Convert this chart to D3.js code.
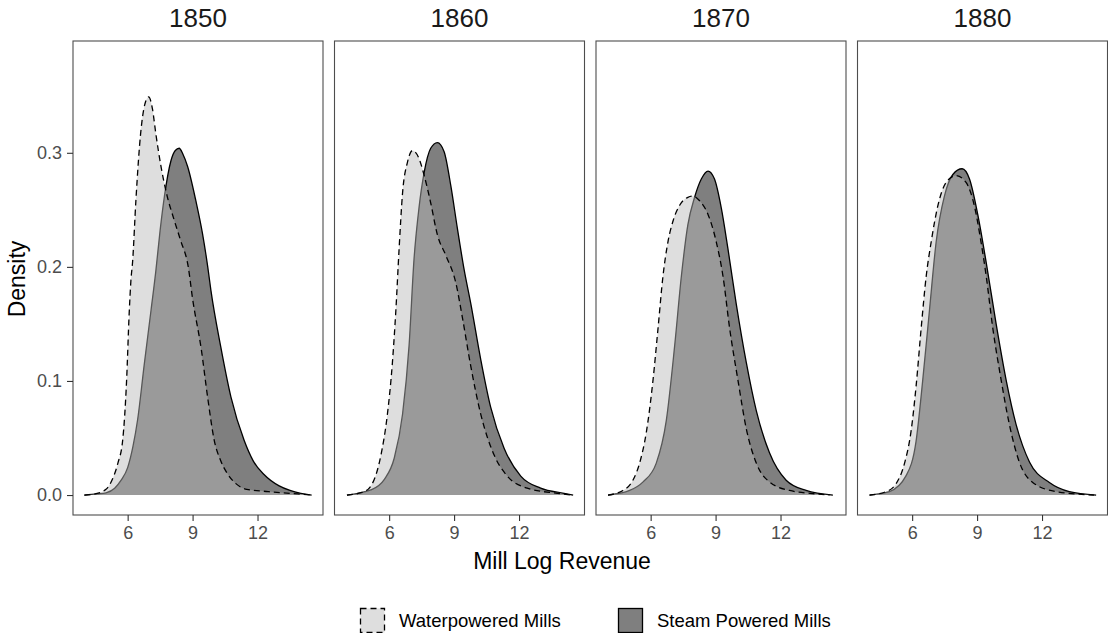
<!DOCTYPE html>
<html>
<head>
<meta charset="utf-8">
<script src="https://cdn.jsdelivr.net/npm/d3@7"></script>
<style>
  body { margin: 0; background: #fff; }
  svg text { font-family: "Liberation Sans", Arial, Helvetica, sans-serif; }
</style>
</head>
<body>
<svg id="chart" width="1108" height="633"></svg>
<script>
// years shown as facets
var years = ["1850", "1860", "1870", "1880"];

// density curves: [log revenue, density]
var water1850 = [[4.0,0],[4.5,0.001],[5.0,0.005],[5.3,0.014],[5.55,0.028],[5.77,0.048],[5.95,0.1],[6.07,0.159],[6.15,0.188],[6.23,0.205],[6.38,0.258],[6.6,0.317],[6.8,0.343],[6.97,0.349],[7.15,0.338],[7.3,0.317],[7.55,0.287],[7.8,0.264],[8.15,0.241],[8.45,0.223],[8.8,0.2],[9.0,0.172],[9.4,0.128],[9.7,0.085],[10.0,0.048],[10.3,0.03],[10.6,0.019],[11.0,0.01],[11.5,0.005],[12.5,0.003],[13.5,0.0015],[14.5,0]];
var steam1850 = [[4.0,0],[4.6,0.001],[5.0,0.002],[5.4,0.006],[5.7,0.013],[6.0,0.024],[6.25,0.043],[6.46,0.066],[6.77,0.115],[7.08,0.162],[7.3,0.196],[7.5,0.232],[7.7,0.262],[8.0,0.293],[8.2,0.302],[8.38,0.304],[8.55,0.299],[8.77,0.288],[9.15,0.258],[9.46,0.229],[9.7,0.2],[9.85,0.179],[10.3,0.13],[10.77,0.086],[11.38,0.048],[11.8,0.03],[12.3,0.018],[13.0,0.008],[13.5,0.004],[14.0,0.0015],[14.5,0]];

var water1860 = [[4.05,0],[4.85,0.003],[5.31,0.0136],[5.62,0.035],[5.92,0.071],[6.15,0.116],[6.31,0.162],[6.46,0.216],[6.62,0.265],[6.85,0.292],[7.08,0.302],[7.38,0.295],[7.62,0.28],[7.92,0.256],[8.23,0.228],[8.62,0.21],[9.08,0.186],[9.38,0.156],[9.77,0.113],[10.23,0.071],[10.85,0.035],[11.46,0.0166],[12.38,0.006],[13.77,0.0015],[14.38,0]];
var steam1860 = [[4.05,0],[5.15,0.0045],[5.77,0.0136],[6.23,0.032],[6.62,0.071],[6.92,0.131],[7.15,0.207],[7.38,0.252],[7.62,0.283],[7.92,0.304],[8.23,0.309],[8.54,0.301],[8.85,0.271],[9.15,0.234],[9.46,0.198],[9.77,0.168],[10.23,0.119],[10.69,0.077],[11.31,0.041],[12.08,0.0166],[13.0,0.006],[14.08,0.0015],[14.5,0]];

var water1870 = [[4.03,0],[4.72,0.004],[5.18,0.013],[5.49,0.028],[5.8,0.055],[6.11,0.101],[6.34,0.146],[6.57,0.192],[6.8,0.222],[7.03,0.24],[7.34,0.254],[7.72,0.261],[7.95,0.262],[8.26,0.258],[8.65,0.246],[9.03,0.222],[9.34,0.192],[9.65,0.146],[10.03,0.101],[10.42,0.058],[10.88,0.028],[11.49,0.0115],[12.42,0.004],[13.65,0.001],[14.26,0]];
var steam1870 = [[4.03,0],[5.03,0.004],[5.65,0.0115],[6.26,0.028],[6.72,0.065],[7.11,0.131],[7.42,0.192],[7.72,0.237],[8.03,0.261],[8.34,0.277],[8.65,0.284],[8.95,0.277],[9.26,0.252],[9.57,0.216],[9.95,0.168],[10.42,0.116],[10.88,0.074],[11.49,0.037],[12.26,0.013],[13.18,0.004],[14.42,0]];

var water1880 = [[4.03,0],[4.8,0.003],[5.26,0.01],[5.65,0.028],[5.95,0.056],[6.18,0.095],[6.42,0.147],[6.65,0.192],[6.88,0.222],[7.18,0.253],[7.57,0.274],[8.03,0.28],[8.49,0.274],[8.88,0.253],[9.18,0.222],[9.42,0.192],[9.72,0.147],[10.11,0.101],[10.49,0.062],[10.95,0.029],[11.57,0.011],[12.65,0.003],[14.4,0]];
var steam1880 = [[4.03,0],[4.95,0.003],[5.72,0.017],[6.18,0.047],[6.49,0.101],[6.8,0.162],[7.11,0.222],[7.49,0.262],[7.88,0.281],[8.31,0.286],[8.65,0.277],[9.03,0.246],[9.42,0.204],[9.88,0.15],[10.34,0.101],[10.8,0.062],[11.42,0.029],[12.34,0.011],[13.26,0.003],[14.5,0]];

var xTicks = [6, 9, 12];
var yTicks = [0, 0.1, 0.2, 0.3];
var seriesNames = ["Waterpowered Mills", "Steam Powered Mills"];

var panels = [
    {year: years[0], water: water1850, steam: steam1850},
    {year: years[1], water: water1860, steam: steam1860},
    {year: years[2], water: water1870, steam: steam1870},
    {year: years[3], water: water1880, steam: steam1880}
];

var svg = d3.select("#chart");
var panelTop = 41, panelH = 474, panelW = 250, panelStep = 261.5, firstLeft = 73;

var xScale = d3.scaleLinear().domain([3.475, 15.025]).range([0, panelW]);
var yScale = d3.scaleLinear().domain([-0.0175, 0.398]).range([panelH, 0]);

var area = d3.area()
    .x(function (d) { return xScale(d[0]); })
    .y0(yScale(0))
    .y1(function (d) { return yScale(d[1]); })
    .curve(d3.curveMonotoneX);
var line = d3.line()
    .x(function (d) { return xScale(d[0]); })
    .y(function (d) { return yScale(d[1]); })
    .curve(d3.curveMonotoneX);

panels.forEach(function (p, i) {
    var g = svg.append("g")
        .attr("transform", "translate(" + (firstLeft + i * panelStep) + "," + panelTop + ")");

    // steam first, water on top with transparency
    g.append("path").attr("d", area(p.steam)).attr("fill", "#7f7f7f");
    g.append("path").attr("d", line(p.steam))
        .attr("fill", "none").attr("stroke", "#000").attr("stroke-width", 1.3);

    g.append("path").attr("d", area(p.water))
        .attr("fill", "rgb(185,185,185)").attr("fill-opacity", 0.47);
    g.append("path").attr("d", line(p.water))
        .attr("fill", "none").attr("stroke", "#000").attr("stroke-width", 1.3)
        .attr("stroke-dasharray", "6,4");

    g.append("rect")
        .attr("x", 0).attr("y", 0).attr("width", panelW).attr("height", panelH)
        .attr("fill", "none").attr("stroke", "#4d4d4d").attr("stroke-width", 1.1);

    // x axis
    var xa = g.append("g").attr("transform", "translate(0," + panelH + ")")
        .call(d3.axisBottom(xScale).tickValues(xTicks).tickSize(6).tickPadding(5));
    xa.select(".domain").remove();
    xa.selectAll("line").attr("stroke", "#333").attr("stroke-width", 1.1);
    xa.selectAll("text").attr("fill", "#4d4d4d").style("font-size", "18px");

    if (i === 0) {
        var ya = g.append("g")
            .call(d3.axisLeft(yScale).tickValues(yTicks).tickSize(6).tickPadding(5)
                .tickFormat(d3.format(".1f")));
        ya.select(".domain").remove();
        ya.selectAll("line").attr("stroke", "#333").attr("stroke-width", 1.1);
        ya.selectAll("text").attr("fill", "#4d4d4d").style("font-size", "18px");
    }

    svg.append("text")
        .attr("x", firstLeft + i * panelStep + panelW / 2)
        .attr("y", 27)
        .attr("text-anchor", "middle")
        .style("font-size", "26px")
        .attr("fill", "#1a1a1a")
        .text(p.year);
});

svg.append("text")
    .attr("transform", "translate(25,279) rotate(-90)")
    .attr("text-anchor", "middle")
    .style("font-size", "23px")
    .text("Density");

svg.append("text")
    .attr("x", 562).attr("y", 569)
    .attr("text-anchor", "middle")
    .style("font-size", "23px")
    .text("Mill Log Revenue");

// legend
var legendX = [360, 618];
seriesNames.forEach(function (name, i) {
    var lg = svg.append("g").attr("transform", "translate(" + legendX[i] + ",608)");
    lg.append("rect")
        .attr("x", 0.5).attr("y", 0.5).attr("width", 24).attr("height", 24)
        .attr("fill", i === 0 ? "#dedede" : "#7f7f7f")
        .attr("stroke", "#000").attr("stroke-width", 1.3)
        .attr("stroke-dasharray", i === 0 ? "6,4" : null);
    lg.append("text")
        .attr("x", 39).attr("y", 19)
        .style("font-size", "18.5px")
        .text(name);
});
</script>
</body>
</html>
